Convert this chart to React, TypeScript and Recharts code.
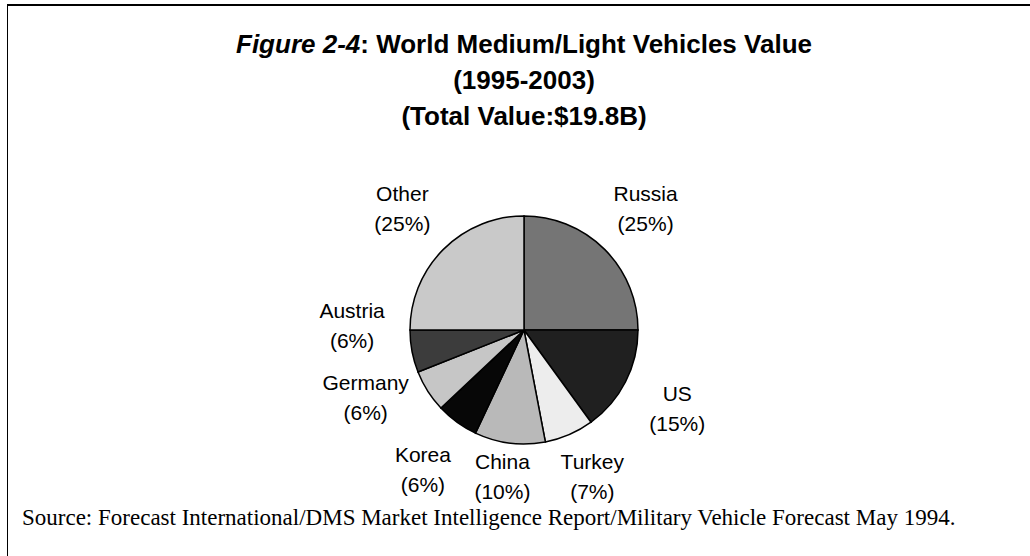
import React from 'react';
import { PieChart, Pie, Cell } from 'recharts';

const countries = ['Russia', 'US', 'Turkey', 'China', 'Korea', 'Germany', 'Austria', 'Other'];
const shares = [25, 15, 7, 10, 6, 6, 6, 25];
const fills = ['#757575', '#202020', '#ededed', '#b9b9b9', '#070707', '#c6c6c6', '#3c3c3c', '#c9c9c9'];

const titleLines = ['(1995-2003)', '(Total Value:$19.8B)'];
const sourceNote =
  'Source: Forecast International/DMS Market Intelligence Report/Military Vehicle Forecast May 1994.';

const data = countries.map((name, i) => ({ name, value: shares[i] }));

const RAD = Math.PI / 180;
const CX = 524;
const CY = 330;
const OUTER = 114;
const LABEL_R = OUTER + 58;
const LABEL_MAX_Y = 476; // keep labels above the source note
const LABEL_GAP = 72;

// label anchors: on a circle around the pie, left-side labels pushed up so they don't collide
function labelLayout() {
  const total = shares.reduce((a, b) => a + b, 0);
  let cum = 0;
  const pts = shares.map((v) => {
    const mid = 90 - (360 * (cum + v / 2)) / total;
    cum += v;
    const x = CX + LABEL_R * Math.cos(-mid * RAD);
    const y = Math.min(CY + LABEL_R * Math.sin(-mid * RAD), LABEL_MAX_Y);
    return { x, y };
  });
  let prev: { x: number; y: number } | null = null;
  pts.forEach((p) => {
    if (p.x >= CX) return;
    if (prev && Math.abs(prev.x - p.x) < 75 && p.y > prev.y - LABEL_GAP) {
      p.y = prev.y - LABEL_GAP;
      const dy = p.y - CY;
      p.x = CX - Math.sqrt(Math.max(LABEL_R * LABEL_R - dy * dy, 0));
    }
    prev = p;
  });
  return pts;
}

const labelPts = labelLayout();

const renderLabel = (props: any) => {
  const { index } = props;
  const { x, y } = labelPts[index];
  return (
    <text
      x={x}
      y={y}
      textAnchor="middle"
      fill="#000"
      fontFamily="'Liberation Sans', Arial, sans-serif"
      fontSize={21}
    >
      <tspan x={x} y={y - 7.5}>{countries[index]}</tspan>
      <tspan x={x} y={y + 22.5}>({shares[index]}%)</tspan>
    </text>
  );
};

export default function App() {
  return (
    <div style={{ position: 'relative', width: 1030, height: 556, background: '#fff' }}>
      <style>{'body{margin:0}'}</style>
      <div
        style={{
          position: 'absolute',
          left: 7,
          top: 4,
          width: 1023,
          height: 552,
          borderTop: '2px solid #000',
          borderLeft: '1.5px solid #000',
          boxSizing: 'border-box',
        }}
      />
      <PieChart width={1030} height={556} margin={{ top: 0, right: 0, bottom: 0, left: 0 }}>
        <Pie
          data={data}
          dataKey="value"
          nameKey="name"
          cx={CX}
          cy={CY}
          outerRadius={OUTER}
          startAngle={90}
          endAngle={-270}
          stroke="#000"
          strokeWidth={1.5}
          label={renderLabel}
          labelLine={false}
          isAnimationActive={false}
        >
          {data.map((d, i) => (
            <Cell key={`cell-${d.name}`} fill={fills[i]} />
          ))}
        </Pie>
      </PieChart>
      <svg
        width={1030}
        height={556}
        style={{ position: 'absolute', left: 0, top: 0, pointerEvents: 'none' }}
      >
        <text
          x={524}
          y={53}
          textAnchor="middle"
          fontFamily="'Liberation Sans', Arial, sans-serif"
          fontWeight="bold"
          fontSize={26}
        >
          <tspan fontStyle="italic">Figure 2-4</tspan>
          <tspan>: World Medium/Light Vehicles Value</tspan>
        </text>
        {titleLines.map((t, i) => (
          <text
            key={t}
            x={524}
            y={89 + i * 36}
            textAnchor="middle"
            fontFamily="'Liberation Sans', Arial, sans-serif"
            fontWeight="bold"
            fontSize={26}
          >
            {t}
          </text>
        ))}
        <text x={22} y={525} fontFamily="'Liberation Serif', 'Times New Roman', serif" fontSize={23}>
          {sourceNote}
        </text>
      </svg>
    </div>
  );
}
